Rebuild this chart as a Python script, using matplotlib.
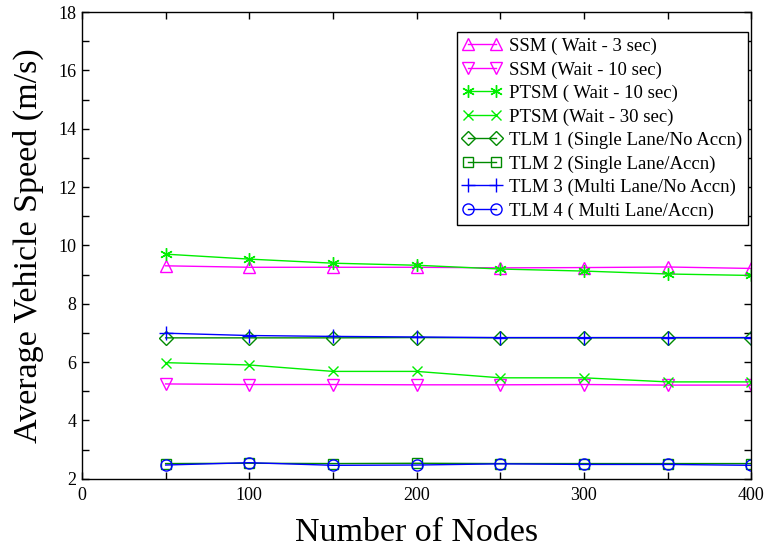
import matplotlib.pyplot as plt
from matplotlib.ticker import MultipleLocator

plt.rcParams['font.family'] = ['Liberation Serif', 'DejaVu Serif']

nodes = [50, 100, 150, 200, 250, 300, 350, 400]

ssm_3 = [9.30, 9.25, 9.25, 9.25, 9.23, 9.24, 9.26, 9.21]
ssm_10 = [5.25, 5.23, 5.23, 5.22, 5.22, 5.23, 5.21, 5.21]
ptsm_10 = [9.70, 9.53, 9.39, 9.32, 9.19, 9.12, 9.02, 8.97]
ptsm_30 = [5.98, 5.90, 5.68, 5.68, 5.46, 5.46, 5.32, 5.32]
tlm_1 = [6.83, 6.83, 6.83, 6.84, 6.83, 6.83, 6.83, 6.83]
tlm_2 = [2.52, 2.53, 2.52, 2.53, 2.52, 2.52, 2.52, 2.52]
tlm_3 = [6.99, 6.91, 6.88, 6.86, 6.84, 6.84, 6.84, 6.84]
tlm_4 = [2.47, 2.55, 2.46, 2.47, 2.51, 2.49, 2.49, 2.46]

labels = ['SSM ( Wait - 3 sec)', 'SSM (Wait - 10 sec)', 'PTSM ( Wait - 10 sec)',
          'PTSM (Wait - 30 sec)', 'TLM 1 (Single Lane/No Accn)', 'TLM 2 (Single Lane/Accn)',
          'TLM 3 (Multi Lane/No Accn)', 'TLM 4 ( Multi Lane/Accn)']

magenta = '#ff00ff'
lime = '#00ee00'
dgreen = '#008a00'
blue = '#0000ff'

fig = plt.figure(figsize=(7.64, 5.49), dpi=100)
ax = fig.add_axes([0.1073, 0.128, 0.876, 0.85])

asterisk = (6, 2, 0)
series = [
    (ssm_3, magenta, '^', 9),
    (ssm_10, magenta, 'v', 9),
    (ptsm_10, lime, asterisk, 9),
    (ptsm_30, lime, 'x', 7),
    (tlm_1, dgreen, 'D', 7),
    (tlm_2, dgreen, 's', 7),
    (tlm_3, blue, '+', 10),
    (tlm_4, blue, 'o', 8),
]

for (vals, col, mk, ms), lab in zip(series, labels):
    ax.plot(nodes, vals, color=col, marker=mk, markersize=ms,
            markerfacecolor='none', markeredgecolor=col, markeredgewidth=1.0,
            linewidth=1.0, label=lab)

ax.set_xlim(0, 400)
ax.set_ylim(2, 18)
ax.xaxis.set_major_locator(MultipleLocator(100))
ax.xaxis.set_minor_locator(MultipleLocator(50))
ax.yaxis.set_major_locator(MultipleLocator(2))
ax.yaxis.set_minor_locator(MultipleLocator(1))
ax.tick_params(which='both', direction='in', top=True, right=True,
               length=5, width=1.0, labelsize=13, pad=4)
ax.tick_params(axis='x', pad=6)

for sp in ax.spines.values():
    sp.set_linewidth(1.0)

ax.set_xlabel('Number of Nodes', fontsize=24.5, labelpad=10)
ax.set_ylabel('Average Vehicle Speed (m/s)', fontsize=24.5, labelpad=10)

leg = ax.legend(loc='upper right', numpoints=2, fontsize=13.5, frameon=True,
                fancybox=False, edgecolor='black', framealpha=1,
                borderpad=0.3, labelspacing=0.33, handlelength=2.1,
                handletextpad=0.4, borderaxespad=0,
                bbox_to_anchor=(0.9955, 0.957))
leg.get_frame().set_linewidth(1.0)

fig.savefig('out.png', dpi=100)
